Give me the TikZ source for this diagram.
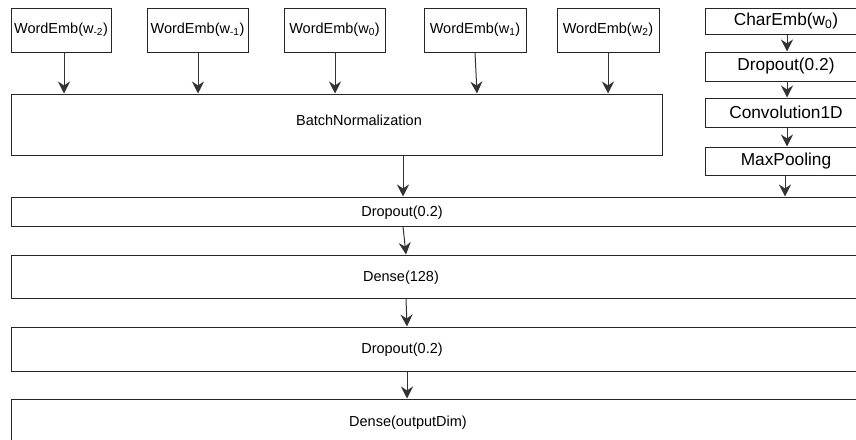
\documentclass[tikz,border=0pt]{standalone}
\usepackage{fontspec}
\setmainfont{Liberation Sans}
\usetikzlibrary{arrows.meta}
\tikzset{
	layer/.style={draw=black!85, line width=1pt, rectangle, inner sep=0pt, font=\fontsize{14.5}{17}\selectfont},
	charlayer/.style={layer, font=\fontsize{17.3}{20}\selectfont},
	lbl/.style={inner sep=0pt, font=\fontsize{14.5}{17}\selectfont},
	arr/.style={draw=black!80, line width=1pt, -{Stealth[length=12pt, width=12pt, inset=4pt]}}
}

\begin{document}
\begin{tikzpicture}[x=1pt, y=-1pt]
			%%%%% START %%%%%
			\useasboundingbox (0, 0) rectangle (856, 439);
			\clip (0, 0) rectangle (856, 439);
			
			%%%%% word embeddings %%%%%
			\node[layer, minimum width=100pt, minimum height=44pt] (wm2) at (61, 30) {WordEmb(w\textsubscript{-2})};
			\node[layer, minimum width=101pt, minimum height=44pt] (wm1) at (197.5, 30) {WordEmb(w\textsubscript{-1})};
			\node[layer, minimum width=101pt, minimum height=44pt] (w0) at (334.5, 30) {WordEmb(w\textsubscript{0})};
			\node[layer, minimum width=102pt, minimum height=44pt] (w1) at (475, 30) {WordEmb(w\textsubscript{1})};
			\node[layer, minimum width=102pt, minimum height=44pt] (w2) at (608, 30) {WordEmb(w\textsubscript{2})};
			
			\node[layer, minimum width=651pt, minimum height=61pt] (bn) at (336.5, 124.5) {};
			\node[lbl] (bnt) at (359, 120) {BatchNormalization};
			
			\draw[arr] ([xshift=3pt]wm2.south) -- ([xshift=-272.5pt]bn.north);
			\draw[arr] ([xshift=0.5pt]wm1.south) -- ([xshift=-138.5pt]bn.north);
			\draw[arr] ([xshift=0.5pt]w0.south) -- ([xshift=-1.5pt]bn.north);
			\draw[arr] (w1.south) -- ([xshift=140.5pt]bn.north);
			\draw[arr] (w2.south) -- ([xshift=271.5pt]bn.north);
			
			%%%%% char embedding %%%%%
			\node[charlayer, minimum width=162pt, minimum height=26pt] (ce) at (786, 21) {CharEmb(w\textsubscript{0})};
			\node[charlayer, minimum width=162pt, minimum height=29pt] (cd) at (786, 66.5) {Dropout(0.2)};
			\node[charlayer, minimum width=162pt, minimum height=29pt] (cv) at (786, 112.5) {Convolution1D};
			\node[charlayer, minimum width=162pt, minimum height=28pt] (mp) at (786, 161) {MaxPooling};
			
			\draw[arr] ([xshift=1pt]ce.south) -- ([xshift=1pt]cd.north);
			\draw[arr] ([xshift=1pt]cd.south) -- ([xshift=1pt]cv.north);
			\draw[arr] ([xshift=1pt]cv.south) -- ([xshift=1pt]mp.north);
			
			%%%%% dense part %%%%%
			\node[layer, minimum width=859pt, minimum height=29pt] (dp1) at (440.5, 211.5) {};
			\node[lbl] (dp1t) at (402, 213) {Dropout(0.2)};
			\node[layer, minimum width=859pt, minimum height=43pt] (de1) at (440.5, 276.5) {};
			\node[lbl] (de1t) at (401, 278) {Dense(128)};
			\node[layer, minimum width=859pt, minimum height=44pt] (dp2) at (440.5, 349) {};
			\node[lbl] (dp2t) at (402, 350) {Dropout(0.2)};
			\node[layer, minimum width=859pt, minimum height=48pt] (de2) at (440.5, 423) {};
			\node[lbl] (de2t) at (408, 423) {Dense(outputDim)};
			
			\draw[arr] ([xshift=-1pt]mp.south) -- ([xshift=344.5pt]dp1.north);
			\draw[arr] ([xshift=66.5pt]bn.south) -- ([xshift=-37.5pt]dp1.north);
			\draw[arr] ([xshift=-37.5pt]dp1.south) -- ([xshift=-34.5pt]de1.north);
			\draw[arr] ([xshift=-34.5pt]de1.south) -- ([xshift=-33.5pt]dp2.north);
			\draw[arr] ([xshift=-33.5pt]dp2.south) -- ([xshift=-33.5pt]de2.north);
			
			%%%%% END %%%%%
\end{tikzpicture}
\end{document}
